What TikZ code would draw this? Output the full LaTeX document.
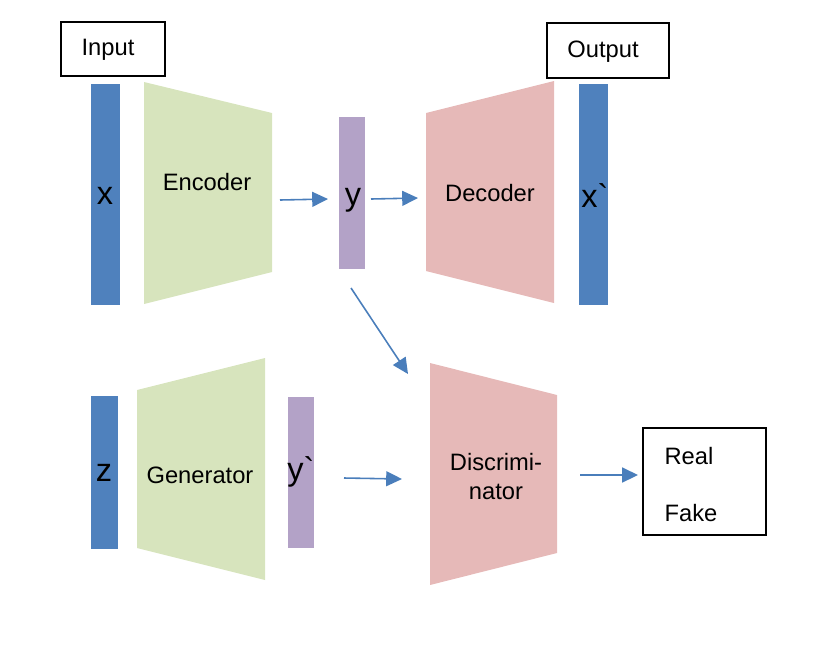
\documentclass[tikz,border=0pt]{standalone}
\usepackage{fontspec}
\setmainfont[Ligatures=TeXOff]{Liberation Sans}
\usepackage{tikz}
\usetikzlibrary{arrows.meta,positioning}

\definecolor{barblue}{HTML}{4F81BD}
\definecolor{codegreen}{HTML}{D7E4BD}
\definecolor{codepurple}{HTML}{B3A2C7}
\definecolor{codepink}{HTML}{E6B9B8}
\definecolor{arrowblue}{HTML}{4A7EBB}

\tikzset{
  lbl/.style={font=\fontsize{13.5}{16}\selectfont, inner sep=0pt},
  varlbl/.style={font=\fontsize{18.5}{22}\selectfont, inner sep=0pt},
  blackbox/.style={draw=black, line width=1.1pt},
  flow/.style={draw=arrowblue, line width=0.9pt, -{Triangle[length=9pt,width=8.5pt]}}
}

\begin{document}
\begin{tikzpicture}[x=0.02cm,y=-0.02cm]
\useasboundingbox (0,0) rectangle (831,647);

% top row
\draw[blackbox] (61,22) rectangle (165,76);
\node[lbl] (input) at (108,50) {Input};
\fill[barblue] (91,84) rectangle (120,305);
\node[varlbl] (x) at (105,196) {x};
\fill[codegreen] (144,82) -- (272,113) -- (272,272) -- (144,304) -- cycle;
\node[lbl] (enc) at (207,182) {Encoder};
\fill[codepurple] (339,117) rectangle (365,269);
\node[varlbl] (y) at (353,200) {y};
\fill[codepink] (426,113) -- (554,81) -- (554,303) -- (426,271) -- cycle;
\node[lbl] (dec) at (490,193) {Decoder};
\draw[blackbox] (547,23) rectangle (669,78);
\node[lbl] (output) at (603,52) {Output};
\fill[barblue] (579,84) rectangle (608,305);
\node[varlbl] (xr) at (595,196) {x`};

% bottom row
\fill[barblue] (91,396) rectangle (118,549);
\node[varlbl] (z) at (104,473) {z};
\fill[codegreen] (137,390) -- (265,358) -- (265,580) -- (137,548) -- cycle;
\node[lbl] (gen) at (200,475) {Generator};
\fill[codepurple] (288,397) rectangle (314,548);
\node[varlbl] (yg) at (301,472) {y`};
\fill[codepink] (430,363) -- (557,395) -- (557,553) -- (430,585) -- cycle;
\node[lbl] (disc) at (496,462) {Discrimi-};
\node[lbl] (disc2) at (496,492) {nator};
\draw[blackbox] (643,428) rectangle (766,535);
\node[lbl] (real) at (689,456) {Real};
\node[lbl] (fake) at (691,513) {Fake};

% arrows
\coordinate (e1) at (280,200);
\coordinate (e2) at (328,199);
\coordinate (d1) at (371,199);
\coordinate (d2) at (418,198);
\coordinate (s1) at (351,288);
\coordinate (s2) at (408,374);
\coordinate (g1) at (344,478);
\coordinate (g2) at (402,479);
\coordinate (r1) at (580,475);
\coordinate (r2) at (638,475);
\draw[flow] (e1) -- (e2);
\draw[flow] (d1) -- (d2);
\draw[flow] (s1) -- (s2);
\draw[flow] (g1) -- (g2);
\draw[flow] (r1) -- (r2);
\end{tikzpicture}
\end{document}
